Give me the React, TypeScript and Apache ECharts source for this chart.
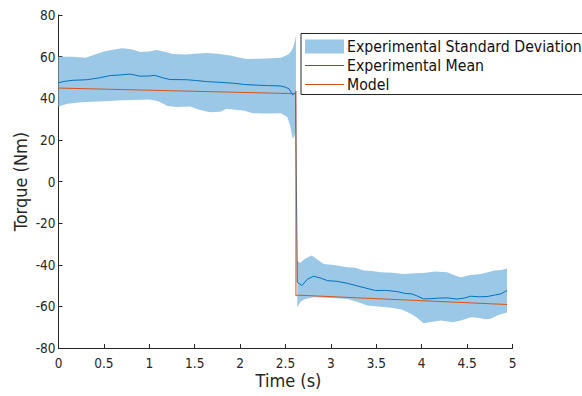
import React, { useEffect, useRef } from "react";
import * as echarts from "echarts";

// ---------- data ----------
const upper1T = [0, 0.15, 0.3, 0.4, 0.5, 0.6, 0.7, 0.8, 0.9, 1.0, 1.08, 1.17, 1.26, 1.4, 1.5, 1.63, 1.75, 1.89, 2.0, 2.07, 2.2, 2.3, 2.45, 2.53, 2.56, 2.58, 2.6, 2.615];
const upper1V = [60, 60, 59.5, 61, 62.5, 63.3, 64, 63.5, 62.2, 62.5, 63.2, 62.3, 61.3, 61, 61.4, 61.8, 61.4, 60.6, 59.5, 58.8, 59, 59.1, 59.5, 61, 62.5, 64, 67, 70];
const lower1T = [0, 0.1, 0.25, 0.5, 0.7, 0.83, 1.0, 1.1, 1.2, 1.3, 1.45, 1.55, 1.67, 1.78, 1.85, 1.95, 2.05, 2.14, 2.3, 2.45, 2.52, 2.55, 2.575, 2.59, 2.605, 2.615];
const lower1V = [36, 37.3, 38.1, 38.5, 39, 39.2, 39.4, 38.5, 36.3, 35.8, 36, 34.5, 33.3, 33.5, 35, 34.5, 34, 32.8, 32.7, 32.8, 31, 27, 21.5, 20.5, 23, 26];

const upper2T = [2.63, 2.66, 2.72, 2.79, 2.85, 2.92, 3.05, 3.18, 3.27, 3.36, 3.45, 3.55, 3.68, 3.8, 3.92, 4.02, 4.15, 4.28, 4.36, 4.43, 4.52, 4.65, 4.74, 4.8, 4.88, 4.94];
const upper2V = [-38, -39.2, -37, -35.6, -37.5, -39.6, -40.2, -41.2, -41.5, -42.8, -43, -43.6, -43.8, -44.4, -44.1, -44, -43.3, -43.6, -45, -46, -45, -44.4, -43.5, -42.8, -42.5, -41.8];
const lower2T = [2.63, 2.67, 2.72, 2.81, 2.95, 3.1, 3.18, 3.28, 3.4, 3.55, 3.66, 3.78, 3.88, 3.95, 4.02, 4.1, 4.21, 4.35, 4.45, 4.54, 4.62, 4.7, 4.76, 4.85, 4.94];
const lower2V = [-60.4, -57.5, -56.5, -55.6, -55.8, -56.2, -56.4, -57.6, -59.6, -60.2, -60.7, -61.5, -63.6, -65.5, -68.1, -67.5, -66.8, -67.6, -66.5, -65.2, -65.5, -66.2, -66, -64, -63];

const meanT = [0, 0.05, 0.15, 0.31, 0.45, 0.57, 0.68, 0.79, 0.9, 1.0, 1.06, 1.15, 1.23, 1.41, 1.52, 1.63, 1.8, 1.93, 2.05, 2.18, 2.3, 2.44, 2.5, 2.54, 2.58, 2.61,
  2.63, 2.68, 2.74, 2.81, 2.88, 2.96, 3.07, 3.18, 3.32, 3.42, 3.49, 3.6, 3.73, 3.82, 3.89, 3.95, 4.02, 4.1, 4.2, 4.28, 4.39, 4.47, 4.54, 4.63, 4.72, 4.8, 4.87, 4.94];
const meanV = [47.4, 48, 48.6, 48.9, 49.8, 50.9, 51.2, 51.6, 50.6, 50.7, 51, 49.8, 49, 48.9, 48.5, 48, 47.6, 47.2, 46.6, 46.3, 46.1, 45.9, 45.3, 44.5, 41.6, 42.8,
  -48.4, -50, -47, -45.5, -46.3, -47.6, -48, -48.9, -50.5, -51.6, -52.4, -52.3, -52.9, -53.8, -54, -55, -56.4, -56.3, -56, -55.9, -56.5, -56, -55.1, -55.4, -55.3, -54.6, -54, -52.4];

const modelT = [0, 2.605, 2.615, 2.615, 2.63, 4.94];
const modelV = [44.9, 42.2, 43.5, -55, -54.6, -59.1];

const xTicks = { min: 0, max: 5, interval: 0.5 };
const yTicks = { min: -80, max: 80, interval: 20 };

const BAND = "#9BC8E7";
const MEAN = "#0072BD";
const MODEL = "#D95319";
const AXIS = "#262626";
const FONT = "'DejaVu Sans Condensed', 'Liberation Sans', Arial, sans-serif";
const LINE_ICON = "path://M0,0H40V1H0Z";

const segments = [
  { ut: upper1T, uv: upper1V, lt: lower1T, lv: lower1V },
  { ut: upper2T, uv: upper2V, lt: lower2T, lv: lower2V },
];

export default function App() {
  const ref = useRef<HTMLDivElement>(null);
  useEffect(() => {
    if (!ref.current) return;
    const chart = echarts.init(ref.current, undefined, { renderer: "svg" });
    const zip = (t: number[], v: number[]) => t.map((x, i) => [x, v[i]]);
    chart.setOption({
      animation: false,
      backgroundColor: "#fff",
      textStyle: { fontFamily: FONT },
      grid: { left: 58.5, right: 69.5, top: 15, bottom: 48, containLabel: false, outerBoundsMode: "none" },
      legend: {
        orient: "vertical",
        left: 301,
        top: 33.5,
        padding: [5, 300, 2, 4],
        itemWidth: 39,
        itemHeight: 14,
        itemGap: 3,
        borderColor: AXIS,
        borderWidth: 1,
        backgroundColor: "#fff",
        textStyle: { fontFamily: FONT, fontSize: 15.7, color: "#111", padding: [0, 0, 0, -2] },
        data: [
          { name: "Experimental Standard Deviation", icon: "rect", itemStyle: { color: BAND } },
          { name: "Experimental Mean", icon: LINE_ICON, itemStyle: { color: MEAN } },
          { name: "Model", icon: LINE_ICON, itemStyle: { color: MODEL } },
        ],
      },
      xAxis: {
        type: "value",
        ...xTicks,
        name: "Time (s)",
        nameLocation: "middle",
        nameGap: 23,
        nameMoveOverlap: false,
        nameTextStyle: { fontFamily: FONT, fontSize: 18, color: AXIS, padding: [0, 0, 0, 6] },
        axisLine: { show: true, onZero: false, lineStyle: { color: AXIS, width: 1 } },
        axisTick: { show: true, inside: true, length: 4, lineStyle: { color: AXIS } },
        axisLabel: { fontFamily: FONT, fontSize: 13.5, color: AXIS, margin: 8 },
        splitLine: { show: false },
      },
      yAxis: {
        type: "value",
        ...yTicks,
        name: "Torque (Nm)",
        nameLocation: "middle",
        nameGap: 29,
        nameMoveOverlap: false,
        nameTextStyle: { fontFamily: FONT, fontSize: 18, color: AXIS },
        axisLine: { show: true, onZero: false, lineStyle: { color: AXIS, width: 1 } },
        axisTick: { show: true, inside: true, length: 4, lineStyle: { color: AXIS } },
        axisLabel: { fontFamily: FONT, fontSize: 13.5, color: AXIS, margin: 3 },
        splitLine: { show: false },
      },
      series: [
        {
          type: "custom",
          name: "Experimental Standard Deviation",
          itemStyle: { color: BAND },
          data: [[0, 0], [1, 0]],
          renderItem: (params: any, api: any) => {
            const s = segments[params.dataIndex];
            const up = s.ut.map((t, i) => api.coord([t, s.uv[i]]));
            const lo = s.lt.map((t, i) => api.coord([t, s.lv[i]])).reverse();
            return {
              type: "polygon",
              shape: { points: up.concat(lo) },
              style: { fill: BAND, stroke: "none" },
            };
          },
          z: 1,
        },
        {
          type: "line",
          name: "Experimental Mean",
          data: zip(meanT, meanV),
          symbol: "none",
          showSymbol: false,
          lineStyle: { color: MEAN, width: 1 },
          itemStyle: { color: MEAN },
          z: 2,
        },
        {
          type: "line",
          name: "Model",
          data: zip(modelT, modelV),
          symbol: "none",
          showSymbol: false,
          lineStyle: { color: MODEL, width: 1 },
          itemStyle: { color: MODEL },
          z: 3,
        },
      ],
    });
    return () => chart.dispose();
  }, []);
  return (
    <div
      ref={ref}
      style={{ position: "fixed", left: 0, top: 0, width: 582, height: 396, background: "#fff" }}
    />
  );
}
